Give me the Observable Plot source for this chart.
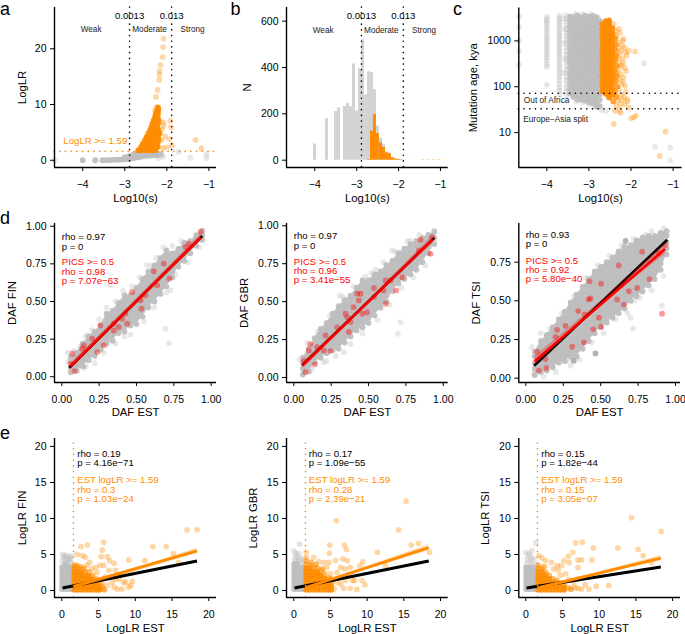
<!DOCTYPE html>
<html><head><meta charset="utf-8">
<script src="https://cdn.jsdelivr.net/npm/d3@7"></script>
<script src="https://cdn.jsdelivr.net/npm/@observablehq/plot@0.6"></script>
<style>
html,body{margin:0;padding:0;background:#fff}
#page{position:relative;width:685px;height:634px;overflow:hidden;font-family:"Liberation Sans",sans-serif}
#page>svg{position:absolute}
.tag{position:absolute;font-size:18px;line-height:1;color:#000}
</style></head><body><div id="page"></div>
<script>
// ---------- shared colours / thresholds ----------
const ORANGE="#ff8c00", GREY="#bebebe", RED="#ff0000";
const S_WEAK=-2.886, S_STRONG=-1.886, LR_CUT=1.59, OOA=72, SPLIT=33;

// ---------- panel a: Log10(s) vs LogLR ----------
const aGreyDense=[[-4,0],[-3.7,0],[-3.53,0],[-3.44,.02],[-3.36,.04],[-3.29,.05],[-3.22,.07],[-3.15,.1],[-3.08,.13],[-3.02,.17],[-2.95,.2],[-2.88,.27],[-2.82,.35],[-2.75,.45],[-2.68,.55],[-2.61,.65],[-3,.55],[-2.9,.7],[-2.82,.9],[-2.75,1.05],[-2.68,1.25],[-2.6,1.3],[-2.52,1.35],[-2.45,1.4],[-2.38,1.35],[-2.3,1.3],[-2.22,1.2],[-2.54,.75],[-2.46,.8],[-2.38,.85],[-2.3,.9],[-2.22,.9],[-2.15,1.1]];
const aGreyLight=[[-4.66,0],[-2.08,.65],[-1.72,1.5],[-1.44,.45],[-1.06,.4],[-1.06,1],[-2.2,.4],[-2.12,.9]];
const aOrangeRows=[
 [1.8,-2.68,-2.62,-2.55,-2.48,-2.41,-2.34,-2.27],
 [2.4,-2.61,-2.55,-2.48,-2.41,-2.34,-2.27,-2.22],
 [3.0,-2.57,-2.5,-2.43,-2.36,-2.29,-2.22],
 [3.6,-2.52,-2.45,-2.38,-2.31,-2.24,-2.2],
 [4.2,-2.48,-2.41,-2.34,-2.27,-2.21],
 [4.8,-2.44,-2.37,-2.3,-2.23,-2.18],
 [5.4,-2.4,-2.33,-2.26,-2.2],
 [6.0,-2.37,-2.3,-2.23],
 [6.6,-2.34,-2.27,-2.21],
 [7.2,-2.31,-2.25,-2.2],
 [7.8,-2.28,-2.22],
 [8.4,-2.26,-2.21],
 [9.0,-2.23,-2.2],
 [9.5,-2.21]];
const aOrangeLight=[[-2.08,21.8],[-2.09,20.3],[-2.1,18.5],[-2.15,17.1],[-2.17,16],[-2.18,15.4],[-2.18,14.4],[-2.22,12.6],[-2.26,11.4],[-1.92,7.1],[-1.9,5.9],[-2.08,6.8],[-2.18,7.1],[-2.08,6.2],[-2.16,4.9],[-2.04,4.3],[-1.94,3.8],[-2,2.3],[-1.88,2.7],[-2.1,2.2],[-1.32,3.65],[-1.18,2.15],[-2.28,8.9],[-2.24,9.5],[-2.13,3.6],[-2.12,5.6]];

// ---------- panel b: histogram of Log10(s) ----------
const BIN=0.0716;
const bGreyLeft=[-4.03,-3.745,-3.53,-3.458,-3.315,-3.244,-3.172,-3.1,-3.03,-2.957,-2.885,-2.81,-2.74,-2.67,-2.6,-2.53,-2.455,-2.384,-2.31,-2.24,-2.17,-2.1,-2.03];
const bGreyN=[70,180,210,225,232,245,230,415,212,395,520,282,382,378,305,148,95,68,36,30,12,6,4];
const bOrangeLeft=[-2.74,-2.67,-2.6,-2.53,-2.455,-2.384,-2.31,-2.24,-2.17,-2.1,-2.03,-1.955];
const bOrangeN=[3,125,197,115,75,55,32,28,10,5,3,2];
const bGreyFaintLeft=[-1.955,-1.88,-1.75,-1.6,-1.4,-1.2,-1.05];
const bGreyFaintN=[3,2,1,1,1,1,1];
const bOrangeFaintLeft=[-1.45,-1.32,-1.18,-1.05];
const bOrangeFaintN=[3,3,3,3];

// ---------- panel c: Log10(s) vs mutation age ----------
const cGreyMid=[
 [-4,3300,2900,2600,2300,2000,1750,1500,1300,1150,1000,870,760,660,580,500,430,370,310,270,110],
 [-3.7,3500,3050,2650,2300,2000,1750,1500,1300,1150,1000,870,760,660,580,500,430,370,310,270,230,195,165,140,115,98,82,68],
 [-3.53,3100,2600,2150,1800,1500,1250,1050,870,720,600,500,420,350,290,240,200,165,140,115,95,80,66]];
const cGreyDense=[
 [-3.45,3400,2700,2080,1600,1230,950,730,560,430,330,255,196,150,116,89,72],
 [-3.36,3300,2380,1830,1400,1080,830,640,490,380,290,225,172,132,102,78,60],
 [-3.27,3600,2700,2080,1600,1230,950,730,560,430,330,255,196,150,116,89,68,53],
 [-3.18,3200,2380,1830,1400,1080,830,640,490,380,290,225,172,132,102,78,62,52],
 [-3.09,3550,2700,2080,1600,1230,950,730,560,430,330,255,196,150,116,89,68,50],
 [-3,3350,2380,1830,1400,1080,830,640,490,380,290,225,172,132,102,78,60,46],
 [-2.91,3500,2700,2080,1600,1230,950,730,560,430,330,255,196,150,116,89,68,52,43],
 [-2.82,3200,2380,1830,1400,1080,830,640,490,380,290,225,172,132,102,78,60,46,37],
 [-2.74,2700,2080,1600,1230,950,730,560,430,330,255,196,150,116,89,68,52,38]];
const cGreyLight=[[-1.69,325],[-1.43,4.9],[-1.07,4.7],[-1.07,2.5],[-4.66,3400],[-4.66,2000],[-4.66,1000],[-4.66,600],[-4.66,300],[-3.42,62],[-3.3,48],[-3.15,46],[-3,42],[-2.85,36],[-2.7,31],[-2.6,30],[-3.6,3000],[-3.55,3600],[-3.32,3800],[-3.15,3800],[-2.95,3800],[-2.85,3500],[-2.78,3200],[-3.56,1800],[-3.57,900],[-3.56,400],[-3.6,200]];
const cOrangeDense=[
 [-2.68,2300,1800,1400,1080,830,640,490,380,290,225,172,132,102,80],
 [-2.6,2700,2050,1600,1230,950,730,560,430,330,255,196,150,116,89,70],
 [-2.52,2800,2300,1800,1400,1080,830,640,490,380,290,225,172,132,102,78,58],
 [-2.44,1900,1500,1230,950,730,560,430,330,255,196,150,116,89,66]];
const cOrangeEdge=[[-2.37,1130],[-2.36,830],[-2.38,640],[-2.35,480],[-2.37,380],[-2.34,290],[-2.38,225],[-2.34,172],[-2.36,132],[-2.33,100],[-2.38,76],[-2.34,60],[-2.42,48]];
const cOrangeLight=[[-2.52,2700],[-2.41,2350],[-2.29,1830],[-2.34,1300],[-2.13,560],[-2.21,790],[-2.05,610],[-1.9,585],[-2.41,15.5],[-2,20.5],[-1.93,21.6],[-1.88,23.5],[-2.25,27],[-2.27,30],[-2.05,35],[-2.09,54],[-2.17,59],[-2.38,30],[-1.18,10.6],[-1.32,3.1],[-2.3,900],[-2.31,700],[-2.28,540],[-2.3,420],[-2.26,320],[-2.29,250],[-2.25,190],[-2.28,150],[-2.22,115],[-2.28,88],[-2.22,68],[-2.2,420],[-2.15,260],[-2.18,160],[-2.12,78],[-2.3,50],[-2.25,40],[-2.35,38],[-2.18,1100],[-2.26,1500],[-2.2,1000],[-2.15,700],[-2.1,480],[-2.24,610],[-2.18,340],[-2.22,290],[-2.12,220],[-2.2,130],[-2.14,105],[-2.08,48],[-2.15,42],[-2.22,52],[-2.36,1600],[-2.33,200]];

// ---------- panel d: DAF scatter ----------
const d1GreyCols=[
 [.06,.03,.06,.1,.13],[.1,.04,.08,.12,.16],[.14,.07,.11,.15,.19,.22],[.18,.11,.15,.19,.23,.27],[.22,.14,.18,.22,.26,.3],[.26,.18,.22,.26,.3,.34],[.3,.22,.26,.3,.34,.38,.42],[.34,.24,.28,.32,.36,.4,.44],[.38,.29,.33,.37,.41,.45,.49],[.42,.3,.34,.38,.42,.46,.5,.54],[.46,.34,.38,.42,.46,.5,.54],[.5,.35,.39,.43,.47,.51,.55,.59],[.54,.4,.44,.48,.52,.56,.6,.65],[.58,.46,.5,.54,.58,.62,.66,.7],[.62,.5,.54,.58,.62,.66,.7,.74],[.66,.55,.59,.63,.67,.71,.75,.79],[.7,.6,.64,.68,.72,.76,.8,.84],[.74,.66,.7,.74,.78,.82],[.78,.73,.77,.81,.85],[.82,.77,.81,.85,.89],[.86,.82,.86,.9],[.9,.87,.91,.94],[.94,.91,.94,.97]];
const d1GreyLight=[[.694,.319],[.717,.224],[.42,.268],[.326,.608],[.728,.574],[.15,.06],[.6,.74],[.04,.16],[.04,.1],[.08,.17],[.12,.2],[.16,.27],[.2,.31],[.25,.38],[.3,.46],[.36,.5],[.41,.57],[.47,.6],[.52,.66],[.57,.74],[.63,.79],[.68,.86],[.74,.87],[.8,.9],[.16,.07],[.22,.09],[.28,.16],[.36,.22],[.46,.28],[.55,.37],[.62,.46],[.7,.56],[.76,.68],[.84,.76],[.92,.86]];
const d1Red=[[.07,.153],[.058,.086],[.085,.038],[.136,.186],[.237,.164],[.281,.208],[.203,.253],[.259,.341],[.348,.353],[.382,.33],[.438,.353],[.426,.419],[.471,.563],[.533,.452],[.56,.541],[.616,.7],[.683,.752],[.721,.652],[.638,.608],[.85,.885],[.929,.962],[.828,.863],[.348,.308],[.404,.386],[.527,.508],[.147,.208]];
const d2GreyCols=[
 [.06,.02,.06,.1,.13],[.1,.04,.08,.12,.16,.19],[.14,.1,.14,.18,.22,.26],[.18,.13,.17,.21,.25,.29,.32],[.22,.16,.2,.24,.28,.32,.36],[.26,.18,.22,.26,.3,.34,.38,.42],[.3,.19,.23,.27,.31,.35,.39,.43,.47],[.34,.23,.27,.31,.35,.39,.43,.47,.51],[.38,.27,.31,.35,.39,.43,.47,.51,.54],[.42,.31,.35,.39,.43,.47,.51,.55,.59],[.46,.33,.37,.41,.45,.49,.53,.57,.61,.64],[.5,.36,.4,.44,.48,.52,.56,.6,.64],[.54,.41,.45,.49,.53,.57,.61,.65,.68],[.58,.46,.5,.54,.58,.62,.66,.7],[.62,.5,.54,.58,.62,.66,.7,.74],[.66,.57,.61,.65,.69,.73,.77],[.7,.62,.66,.7,.74,.78,.82],[.74,.65,.69,.73,.77,.81,.85],[.78,.68,.72,.76,.8,.84,.88],[.82,.71,.75,.79,.83,.87,.9],[.86,.76,.8,.84,.88,.92],[.9,.82,.86,.9,.94],[.94,.88,.92,.96]];
const d2GreyLight=[[.714,.365],[.696,.288],[.335,.167],[.308,.54],[.48,.666],[.658,.837],[.78,.9],[.22,.108],[.547,.71],[.94,.97],[.04,.12],[.09,.23],[.16,.3],[.24,.41],[.33,.53],[.4,.6],[.52,.69],[.6,.76],[.68,.83],[.76,.9],[.84,.94],[.12,.05],[.2,.1],[.28,.14],[.38,.22],[.46,.29],[.56,.38],[.64,.48],[.72,.59],[.8,.66],[.88,.74]];
const d2Red=[[.11,.22],[.067,.11],[.14,.086],[.078,.035],[.212,.277],[.156,.2],[.2,.178],[.245,.174],[.29,.33],[.346,.42],[.38,.365],[.424,.552],[.435,.508],[.4,.464],[.458,.42],[.49,.43],[.536,.53],[.614,.486],[.614,.64],[.725,.66],[.685,.574],[.536,.59],[.848,.908],[.915,.815],[.926,.925],[.837,.837],[.368,.3],[.446,.552],[.357,.398],[.6,.574],[.647,.64],[.1,.178]];
const d3GreyCols=[
 [.06,.02,.06,.1,.14,.17],[.1,.04,.08,.12,.16,.2,.24],[.14,.05,.09,.13,.17,.21,.25,.28],[.18,.07,.11,.15,.19,.23,.27,.31,.33],[.22,.1,.14,.18,.22,.26,.3,.34,.38],[.26,.11,.15,.19,.23,.27,.31,.35,.39,.43],[.3,.14,.18,.22,.26,.3,.34,.38,.42,.46,.49],[.34,.14,.18,.22,.26,.3,.34,.38,.42,.46,.5,.54],[.38,.19,.23,.27,.31,.35,.39,.43,.47,.51,.55,.59],[.42,.24,.28,.32,.36,.4,.44,.48,.52,.56,.6,.64],[.46,.29,.33,.37,.41,.45,.49,.53,.57,.61,.65,.69],[.5,.33,.37,.41,.45,.49,.53,.57,.61,.65,.69,.72],[.54,.36,.4,.44,.48,.52,.56,.6,.64,.68,.72,.75],[.58,.39,.43,.47,.51,.55,.59,.63,.67,.71,.75,.78],[.62,.42,.46,.5,.54,.58,.62,.66,.7,.74,.78,.82],[.66,.45,.49,.53,.57,.61,.65,.69,.73,.77,.81,.85],[.7,.5,.54,.58,.62,.66,.7,.74,.78,.82,.86],[.74,.53,.57,.61,.65,.69,.73,.77,.81,.85,.89],[.78,.56,.6,.64,.68,.72,.76,.8,.84,.88,.91],[.82,.6,.64,.68,.72,.76,.8,.84,.88,.92],[.86,.64,.68,.72,.76,.8,.84,.88,.92],[.9,.7,.74,.78,.82,.86,.9,.94],[.94,.8,.84,.88,.92,.95]];
const d3GreyLight=[[.91,.47],[.7,.39],[.715,.32],[.726,.502],[.28,.113],[.66,.84],[.053,.03],[.8,.93],[.04,.2],[.1,.29],[.16,.32],[.24,.42],[.32,.53],[.4,.65],[.48,.73],[.56,.79],[.64,.86],[.72,.9],[.84,.95],[.92,.97],[.12,.01],[.2,.04],[.3,.08],[.36,.12],[.44,.23],[.52,.29],[.6,.38],[.68,.42],[.76,.52],[.84,.57],[.92,.66]];
const d3GreyDark=[[.465,.16],[.666,.887],[.32,.113]];
const d3Red=[[.91,.417],[.425,.626],[.503,.611],[.432,.515],[.35,.434],[.394,.412],[.488,.391],[.45,.316],[.503,.333],[.388,.231],[.31,.203],[.209,.312],[.198,.267],[.076,.171],[.087,.049],[.136,.066],[.131,.124],[.621,.729],[.688,.562],[.61,.509],[.655,.476],[.777,.818],[.826,.641],[.889,.808],[.933,.861],[.744,.583],[.42,.509],[.265,.338]];

// fit lines and confidence bands, panels d
const d1Black=[[.05,.06],[.94,.935]], d1Fit=[[.06,.07],[.93,.925]], d1Band=[[.06,.05,.09],[.45,.455,.47],[.93,.9,.945]];
const d2Black=[[.055,.08],[.94,.92]], d2Fit=[[.06,.08],[.93,.91]], d2Band=[[.06,.06,.1],[.45,.44,.46],[.93,.885,.935]];
const d3Black=[[.055,.08],[.945,.895]], d3Fit=[[.06,.11],[.93,.835]], d3Band=[[.06,.08,.14],[.5,.475,.495],[.93,.8,.87]];

// ---------- panel e: LogLR scatter ----------
const e1GreyCols=[[.05,.2,.7,1.2,1.7,2.2,2.7,3.2],[.5,.2,.7,1.2,1.7,2.2,2.7,3.2,3.6],[.95,.2,.7,1.2,1.7,2.2,2.7,3.2],[1.35,.2,.7,1.2,1.7,2.2,2.7,3.2]];
const e1GreyLight=[[.1,5],[.3,4.6],[.6,4.9],[.9,4.7],[1.2,4.5],[.1,4.2],[.5,4.1],[.9,4],[1.3,3.9],[.2,3.7],[.7,3.8],[.35,4.8],[.7,4.4],[1,4.3],[1.3,4.8]];
const e1OrangeCols=[[1.7,.1,.6,1.1,1.6,2.1,2.6],[2.2,.1,.6,1.1,1.6,2.1,2.6],[2.7,.1,.6,1.1,1.6,2.1,2.4],[3.2,.1,.6,1.1,1.6,2.1],[3.7,.1,.6,1.1,1.6,2],[4.2,.1,.6,1.1,1.5],[4.7,.1,.6,1],[5.1,.1,.5]];
const e1OrangeMid=[[1.7,3.1],[1.7,3.4],[2.2,3.1],[2.7,2.9],[3.2,2.6],[3.7,2.6],[4.2,2.1],[4.7,1.6],[5.1,1.1],[5.5,.6],[5.8,.1],[2,3.5],[2.5,3.3],[3,3.1]];
const e1OrangeLight=[[18.4,8.45],[17.05,8.4],[14.2,6.1],[12.4,6.1],[15.2,5.1],[15.9,3.9],[11.3,4.15],[9.1,4.25],[2.6,6.1],[3.5,6.3],[5.7,6.7],[5.5,5.6],[2.1,5],[5.35,4.7],[6.2,4.7],[3.2,4.6],[3.8,3.9],[6.5,4.15],[7.1,3.8],[5.2,3.5],[5.7,3.5],[6.4,2.8],[7.3,2.8],[8,2.1],[8.7,1.15],[9.6,1.25],[7.6,.2],[8.2,.2],[9.1,.45],[9.4,.7],[8.4,1.15],[7.1,.45],[6.85,1.15],[6.2,.7],[5.7,.2],[5.5,1.15],[7.75,1.6],[5.9,1.85],[4.8,2.5],[4.6,3.2],[3.4,3.5],[2.8,4.85],[6.6,1.85],[7.3,1.6],[4.1,3]];
const e2GreyCols=[[.05,.2,.7,1.2,1.7,2.2,2.7,3.2,3.7],[.5,.2,.7,1.2,1.7,2.2,2.7,3.2,3.7],[.95,.2,.7,1.2,1.7,2.2,2.7,3.2],[1.35,.2,.7,1.2,1.7,2.2,2.7,3.2]];
const e2GreyLight=[[.8,6.45],[0,5.55],[.7,5.1],[.2,4.9],[.5,4.6],[1,4.5],[1.3,4.1],[.1,4.3],[.4,4.2],[.8,4.2],[.3,5.2],[1.1,3.8]];
const e2OrangeCols=[[1.7,.1,.6,1.1,1.6,2.1,2.6,3.1],[2.2,.1,.6,1.1,1.6,2.1,2.6,3.1],[2.7,.1,.6,1.1,1.6,2.1,2.6],[3.2,.1,.6,1.1,1.6,2.1,2.6],[3.7,.1,.6,1.1,1.6,2.1],[4.2,.1,.6,1.1,1.6],[4.7,.1,.6,1.1],[5.1,.1,.6]];
const e2OrangeMid=[[1.7,3.6],[1.7,4.1],[2.2,3.5],[2.7,3.2],[3.2,3.1],[3.7,2.7],[4.2,2.3],[4.7,1.7],[5.1,1.1],[5.1,1.6],[2.4,3.9],[3,3.6],[3.9,3]];
const e2OrangeLight=[[18.5,5.3],[17,6.55],[16,6.3],[15.3,12.4],[14.3,8.4],[12.5,3.45],[11.4,5.3],[9.4,4],[9,3.45],[5.8,9.7],[4.9,6.3],[4.85,5.2],[6.9,6.3],[7.2,5.7],[6.7,4.4],[7.3,4.15],[5.7,4.15],[4.8,3.9],[4.1,3.9],[1.7,5.3],[1.7,4.6],[2.7,4.6],[3.4,4],[6.4,3.2],[7.7,3.2],[7,3],[5.9,2.5],[8.3,1.4],[9.3,1.4],[9.7,.8],[7.7,.3],[8.6,.15],[7,1.4],[6.4,.9],[7.3,2.1],[5.5,.2],[5.9,1.15],[5.2,1.4],[6.8,.3],[8,1.4],[5,2.3],[4.5,3.2]];
const e3GreyCols=[[.05,.2,.7,1.2,1.7,2.2,2.7,3.2],[.5,.2,.7,1.2,1.7,2.2,2.7,3.2],[.95,.2,.7,1.2,1.7,2.2,2.7,3.2],[1.35,.2,.7,1.2,1.7,2.2,2.7]];
const e3GreyLight=[[1.35,6.6],[0,5.3],[.85,5.55],[.2,4.4],[.85,4.6],[.5,5.1],[1.2,4.3],[.1,3.8],[.6,3.9],[1,3.7],[.3,4.9],[.7,4.3],[1.3,3.3]];
const e3OrangeCols=[[1.7,.1,.6,1.1,1.6,2.1,2.6],[2.2,.1,.6,1.1,1.6,2.1,2.6],[2.7,.1,.6,1.1,1.6,2.1],[3.2,.1,.6,1.1,1.6],[3.7,.1,.6,1.1],[4.2,.1,.6,1],[4.7,.1,.6],[5.2,.1,.4]];
const e3OrangeMid=[[1.7,3.1],[1.7,3.5],[2.2,3],[2.7,2.5],[3.2,2.1],[3.7,1.6],[4.2,1.4],[4.7,1.1],[5.2,.8],[5.7,.4],[6.2,.2],[2.5,3.3]];
const e3OrangeLight=[[18.45,8.2],[14.4,10.1],[15.3,5.7],[16,4.85],[17.1,3.85],[12.55,5.9],[11.3,.7],[9.2,5.9],[9,4.25],[7.7,6.7],[6.8,6.6],[6.4,5.3],[5.8,4.75],[5.9,3.9],[5.2,4.15],[4.85,3.45],[7.1,4.25],[7.6,4.25],[7.1,3.2],[1.8,4.85],[2.7,4.15],[3.5,3.9],[4.3,3.45],[2.2,4.5],[9.6,.6],[8.6,.2],[8.1,.8],[7.6,.2],[7.1,1.6],[6.5,.9],[6.1,.2],[5.9,1.5],[5.4,2.3],[4.7,2.1],[7.1,.3],[6.8,.4],[4.4,2.8],[3.8,3]];
const e1Black=[[.1,.35],[18.4,4.1]], e1Fit=[[1.6,.55],[18.4,5.5]], e1Band=[[1.6,.45,.65],[5,1.15,1.35],[18.4,5.1,5.85]];
const e2Black=[[.1,.35],[18.4,4.1]], e2Fit=[[1.6,.4],[18.4,5.95]], e2Band=[[1.6,.3,.5],[5,1.4,1.6],[18.4,5.5,6.35]];
const e3Black=[[.1,.35],[18.4,3.25]], e3Fit=[[1.6,.35],[18.4,4.5]], e3Band=[[1.6,.25,.45],[5,1,1.2],[18.4,4.1,4.85]];

// ---------- labels ----------
const zoneLabels=["Weak","Moderate","Strong"], zoneX=[-3.8,-2.41,-1.39];
const sLabels=["0.0013","0.013"];
const dLabels=[
 {name:"DAF FIN",lines:["rho = 0.97","p = 0"],red:["PICS >= 0.5","rho = 0.98","p = 7.07e\u221263"]},
 {name:"DAF GBR",lines:["rho = 0.97","p = 0"],red:["PICS >= 0.5","rho = 0.96","p = 3.41e\u221255"]},
 {name:"DAF TSI",lines:["rho = 0.93","p = 0"],red:["PICS >= 0.5","rho = 0.92","p = 5.80e\u221240"]}];
const eLabels=[
 {name:"LogLR FIN",lines:["rho = 0.19","p = 4.16e\u221271"],col:["EST logLR >= 1.59","rho = 0.3","p = 1.03e\u221224"]},
 {name:"LogLR GBR",lines:["rho = 0.17","p = 1.09e\u221255"],col:["EST logLR >= 1.59","rho = 0.28","p = 2.39e\u221221"]},
 {name:"LogLR TSI",lines:["rho = 0.15","p = 1.82e\u221244"],col:["EST logLR >= 1.59","rho = 0.15","p = 3.05e\u221207"]}];

// ---------- helpers ----------
const cols=t=>t.flatMap(([x,...ys])=>ys.map(y=>[x,y]));
const rows=t=>t.flatMap(([y,...xs])=>xs.map(x=>[x,y]));
const envelope=t=>t.map(([x,...ys])=>[x,d3.min(ys),d3.max(ys)]);
const X=d=>d[0], Y=d=>d[1];
const FF='"Liberation Sans",sans-serif';
const dots=(data,fill,op,r=2.9)=>Plot.dot(data,{x:X,y:Y,r,fill,fillOpacity:op,stroke:"none"});
const dotV=(v,stroke="#000")=>Plot.ruleX(v,{stroke,strokeWidth:1.6,strokeDasharray:"0.1 5.6",strokeLinecap:"round"});
const dotH=(v,stroke="#000")=>Plot.ruleY(v,{stroke,strokeWidth:1.6,strokeDasharray:"0.1 5.6",strokeLinecap:"round"});
const fitLine=(d,stroke,w)=>Plot.line(d,{x:X,y:Y,stroke,strokeWidth:w,strokeLinecap:"butt"});
const band=(d,fill,op=.3)=>Plot.areaY(d,{x:d=>d[0],y1:d=>d[1],y2:d=>d[2],fill,fillOpacity:op});
// one text element per block; ys gives the data position of each line
const note=(lines,x,ys,fill,fontSize=9.6,anchor="start")=>Plot.text([lines.join("\n")],{x:()=>x,y:()=>d3.mean(ys),text:d=>d,fill,fontSize,textAnchor:anchor,lineAnchor:"middle",lineHeight:.975,fontFamily:FF});

const page=document.getElementById("page");
function panel(o){
  const [cl,ct,cw,ch]=o.cell,[L,T,R,B]=o.frame;
  const svg=Plot.plot({
    width:cw,height:ch,marginLeft:L-cl,marginTop:T-ct,marginRight:cl+cw-R,marginBottom:ct+ch-B,
    style:{background:"transparent",fontFamily:FF,overflow:"visible",color:"#000"},
    x:{domain:o.xd},
    y:{domain:o.yd,type:o.yType||"linear"},
    marks:[
      ...o.marks,
      Plot.ruleX([o.xd[0]],{stroke:"#000",strokeWidth:1.4}),
      Plot.ruleY([o.yd[0]],{stroke:"#000",strokeWidth:1.4}),
      Plot.axisX({ticks:o.xt,tickFormat:o.xf,tickSize:4,tickPadding:9,fontSize:10.5,label:null}),
      Plot.axisY({ticks:o.yt,tickFormat:o.yf,tickSize:4,tickPadding:4,fontSize:10.5,label:null}),
      Plot.text([o.xTitle],{text:d=>d,frameAnchor:"bottom",textAnchor:"middle",lineAnchor:"middle",dy:o.xdy||30.5,fontSize:11.3,fontFamily:FF}),
      Plot.text([o.yTitle],{text:d=>d,frameAnchor:"left",textAnchor:"middle",lineAnchor:"middle",rotate:-90,dx:o.ydx,fontSize:11.3,fontFamily:FF})
    ]});
  svg.style.left=cl+"px"; svg.style.top=ct+"px"; svg.style.maxWidth="none";
  page.appendChild(svg);
}
const fS=d=>String(d).replace("-","\u2212");
const fI=d=>String(d);
const f2=d3.format(".2f");

// panel a
panel({cell:[0,0,230,210],frame:[54,7,216,167],xd:[-4.67,-.82],yd:[-1.3,27.4],
  xt:[-4,-3,-2,-1],xf:fS,yt:[0,10,20],yf:fI,xTitle:"Log10(s)",yTitle:"LogLR",ydx:-32,
  marks:[
    dots(aGreyLight,GREY,.35),dots(aGreyDense,GREY,.95),
    dots(aOrangeLight,ORANGE,.35),
    Plot.areaX(aOrangeRows.map(([y,...xs])=>[y,d3.min(xs),d3.max(xs)]),{y:d=>d[0],x1:d=>d[1],x2:d=>d[2],fill:ORANGE,fillOpacity:.95}),
    dots(rows(aOrangeRows),ORANGE,.95),
    dotH([LR_CUT],ORANGE),dotV([S_WEAK]),dotV([S_STRONG]),
    note(["LogLR >= 1.59"],-3.7,[3.5],ORANGE,9.7,"middle"),
    Plot.text(zoneLabels,{x:(d,i)=>zoneX[i],y:()=>23.4,text:d=>d,fontSize:8.2,fontFamily:FF,fill:"#222"}),
    Plot.text(sLabels,{x:(d,i)=>[S_WEAK,S_STRONG][i],y:()=>25.9,text:d=>d,fontSize:9.6,fontFamily:FF})
  ]});

// panel b
const bars=(l,n,fill,fillOpacity=1)=>Plot.rect(l.map((v,i)=>[v,n[i]]),{x1:d=>d[0],x2:d=>d[0]+BIN,y1:()=>0,y2:d=>d[1],fill,fillOpacity,inset:0});
panel({cell:[230,0,225,210],frame:[286,7,447.7,167],xd:[-4.675,-.815],yd:[-31.5,659],
  xt:[-4,-3,-2,-1],xf:fS,yt:[0,200,400,600],yf:fI,xTitle:"Log10(s)",yTitle:"N",ydx:-39,
  marks:[
    bars(bGreyLeft,bGreyN,"#d3d3d3"),bars(bOrangeLeft,bOrangeN,ORANGE),
    bars(bGreyFaintLeft,bGreyFaintN,"#d3d3d3",.5),bars(bOrangeFaintLeft,bOrangeFaintN,ORANGE,.4),
    dotV([S_WEAK]),dotV([S_STRONG]),
    Plot.text(zoneLabels,{x:(d,i)=>zoneX[i],y:()=>560,text:d=>d,fontSize:8.2,fontFamily:FF,fill:"#222"}),
    Plot.text(sLabels,{x:(d,i)=>[S_WEAK,S_STRONG][i],y:()=>622,text:d=>d,fontSize:9.6,fontFamily:FF})
  ]});

// panel c
panel({cell:[455,0,230,210],frame:[518.3,7.5,681.6,167],xd:[-4.665,-.786],yd:[1.74,5200],yType:"log",
  xt:[-4,-3,-2,-1],xf:fS,yt:[10,100,1000],yf:fI,xTitle:"Log10(s)",yTitle:"Mutation age, kya",ydx:-45,
  marks:[
    dots(cGreyLight,GREY,.35),dots(cols(cGreyMid),GREY,.4),
    band(envelope(cGreyDense),GREY,.95),dots(cols(cGreyDense),GREY,.95),
    dots(cOrangeLight,ORANGE,.35),dots(cOrangeEdge,ORANGE,.8),
    band(envelope(cOrangeDense),ORANGE,.95),dots(cols(cOrangeDense),ORANGE,.95),
    dotH([OOA]),dotH([SPLIT]),
    note(["Out of Africa"],-4.546,[50],"#222",8.3),
    note(["Europe\u2212Asia split"],-4.56,[19.8],"#222",8.3)
  ]});

// panels d
const dCfg=[
  {cell:[0,210,230,215],frame:[54,223,216,382],xd:[-.049,1.0355],yd:[-.038,1.018],yt:[0,.25,.5,.75,1],ys:[.927,.865,.76,.70,.632],ydx:-42,g:d1GreyCols,l:d1GreyLight,r:d1Red,k:d1Black,f:d1Fit,b:d1Band},
  {cell:[230,210,225,215],frame:[286,223,447.7,382],xd:[-.049,1.033],yd:[-.033,1.015],yt:[0,.25,.5,.75,1],ys:[.93,.868,.765,.703,.639],ydx:-42,g:d2GreyCols,l:d2GreyLight,r:d2Red,k:d2Black,f:d2Fit,b:d2Band},
  {cell:[455,210,230,215],frame:[518.3,223,680,382],xd:[-.047,1.033],yd:[-.028,1],yt:[0,.25,.5,.75],ys:[.927,.867,.761,.70,.637],ydx:-42,g:d3GreyCols,l:d3GreyLight,dark:d3GreyDark,r:d3Red,k:d3Black,f:d3Fit,b:d3Band}];
dCfg.forEach((c,i)=>{const t=dLabels[i];
  panel({cell:c.cell,frame:c.frame,xd:c.xd,yd:c.yd,xt:[0,.25,.5,.75,1],xf:f2,yt:c.yt,yf:f2,xTitle:"DAF EST",yTitle:t.name,ydx:c.ydx,xdy:29.7,
    marks:[
      dots(c.l,GREY,.35),band(envelope(c.g),GREY,.95),dots(cols(c.g),GREY,.95),
      ...(c.dark?[dots(c.dark,"#aaaaaa",.9)]:[]),
      dots(c.r,RED,.4),
      fitLine(c.k,"#000",2.6),band(c.b,RED,.3),fitLine(c.f,RED,2.6),
      note(t.lines,0,c.ys.slice(0,2),"#000"),
      note(t.red,0,c.ys.slice(2),RED)
    ]});
});

// panels e
const eCfg=[
  {cell:[0,425,230,209],frame:[54,438,216,597],xd:[-.993,21.05],tx:2.1,g:e1GreyCols,l:e1GreyLight,o:e1OrangeCols,om:e1OrangeMid,ol:e1OrangeLight,k:e1Black,f:e1Fit,b:e1Band,ydx:-32},
  {cell:[230,425,225,209],frame:[286,438,447.7,597],xd:[-.995,21.05],tx:2.05,g:e2GreyCols,l:e2GreyLight,o:e2OrangeCols,om:e2OrangeMid,ol:e2OrangeLight,k:e2Black,f:e2Fit,b:e2Band,ydx:-33},
  {cell:[455,425,230,209],frame:[518.3,438,680,597],xd:[-.954,21.08],tx:2.1,g:e3GreyCols,l:e3GreyLight,o:e3OrangeCols,om:e3OrangeMid,ol:e3OrangeLight,k:e3Black,f:e3Fit,b:e3Band,ydx:-33}];
eCfg.forEach((c,i)=>{const t=eLabels[i];
  panel({cell:c.cell,frame:c.frame,xd:c.xd,yd:[-.97,21.1],xt:[0,5,10,15,20],xf:fI,yt:[0,5,10,15,20],yf:fI,xTitle:"LogLR EST",yTitle:t.name,ydx:c.ydx,xdy:30.7,
    marks:[
      dots(c.l,GREY,.4),dots(cols(c.g),GREY,.95),
      dots(c.ol,ORANGE,.35),dots(c.om,ORANGE,.6),dots(cols(c.o),ORANGE,.9),
      fitLine(c.k,"#000",3),
      band(c.b,ORANGE,.3),fitLine(c.f,ORANGE,3),
      Plot.ruleX([LR_CUT],{y1:()=>-.97,y2:()=>20.7,stroke:ORANGE,strokeWidth:1.6,strokeDasharray:"0.1 5.6",strokeLinecap:"round"}),
      note(t.lines,c.tx,[19,17.7],"#000"),
      note(t.col,c.tx,[15.3,14,12.7],ORANGE)
    ]});
});

// panel letters
[["a",0,0],["b",230.5,0],["c",453,0],["d",0,209],["e",0,424]].forEach(([s,l,t])=>{
  const el=document.createElement("div");el.className="tag";el.textContent=s;el.style.left=l+"px";el.style.top=t+"px";page.appendChild(el);
});
</script></body></html>
